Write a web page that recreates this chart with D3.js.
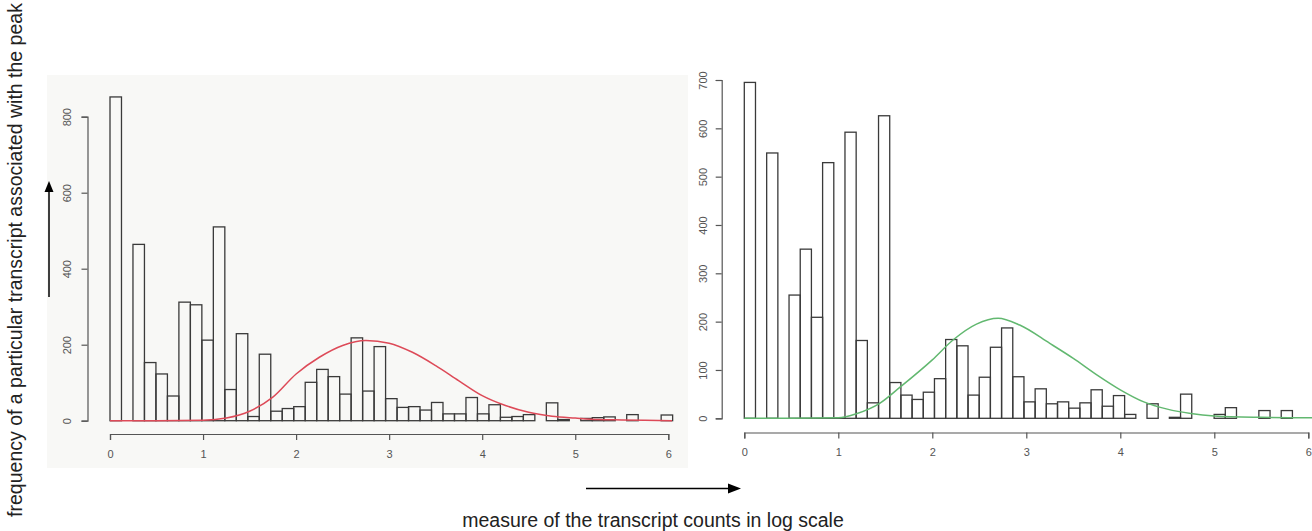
<!DOCTYPE html>
<html lang="en">
<head>
<meta charset="utf-8">
<title>Transcript count histograms</title>
<script src="https://d3js.org/d3.v7.min.js"></script>
<style>
body { margin: 0; background: #fff; }
svg { display: block; font-family: "Liberation Sans", Arial, sans-serif; }
.tick text { fill: #555; font-size: 11px; }
.domain, .tick line { stroke: #555; stroke-width: 1.2; }
</style>
</head>
<body>
<div id="chart"></div>
<script>

// bin counts (49 equal bins each)
var leftCounts = [852, 0, 464, 153, 123, 65, 312, 305, 212, 510,
                  82, 229, 11, 175, 25, 32, 37, 101, 135, 116,
                  70, 218, 78, 195, 58, 35, 37, 28, 48, 18,
                  18, 61, 18, 42, 9, 11, 16, 0, 47, 3,
                  0, 6, 8, 10, 0, 16, 0, 0, 15];
var rightCounts = [695, 0, 549, 0, 255, 350, 209, 529, 1, 592,
                   161, 32, 626, 74, 48, 39, 54, 82, 163, 150,
                   48, 85, 147, 187, 86, 34, 61, 30, 34, 21,
                   32, 59, 25, 47, 8, 0, 30, 0, 2, 50,
                   0, 0, 8, 22, 0, 0, 16, 0, 16];
var leftBinWidth = 0.1234;
var rightBinWidth = 0.119;

// fitted curves, points
var leftCurveX = [0, 0.5, 1.0, 1.25, 1.5, 1.75, 2.0, 2.25, 2.5, 2.75, 3.0, 3.25, 3.5, 3.75, 4.0, 4.25, 4.5, 4.75, 5.0, 5.25, 5.5, 5.75, 6.04];
var leftCurveY = [0, 0, 1, 7, 25, 62, 123, 167, 198, 211, 204, 180, 145, 105, 66, 40, 22, 12, 7, 3, 2, 1, 0];
var rightCurveX = [0, 0.5, 1.0, 1.2, 1.44, 1.66, 2.0, 2.22, 2.47, 2.7, 2.93, 3.25, 3.5, 3.75, 4.0, 4.25, 4.5, 4.75, 5.0, 5.5, 6.0, 6.04];
var rightCurveY = [0, 0, 1, 10, 31, 65, 121, 162, 195, 207, 193, 155, 124, 90, 59, 34, 19, 10, 5, 2, 1, 1];

var xTicks = [0, 1, 2, 3, 4, 5, 6];
var leftYTicks = [0, 200, 400, 600, 800];
var rightYTicks = [0, 100, 200, 300, 400, 500, 600, 700];

var svg = d3.select("#chart")
  .append("svg")
    .attr("width", 1312)
    .attr("height", 531);

// the left plot sits on a slightly grey background
svg.append("rect")
  .attr("x", 47).attr("y", 75)
  .attr("width", 641).attr("height", 393)
  .attr("fill", "#f8f8f6");

function drawPanel(p) {
  var x = d3.scaleLinear().domain([0, 6]).range(p.xRange);
  var y = d3.scaleLinear().domain([0, p.yMax]).range(p.yRange);
  var g = svg.append("g");

  // bars
  var bins = p.counts.map(function(c, i) { return {i: i, c: c}; })
    .filter(function(d) { return d.c > 0; });
  g.selectAll("rect.bar")
    .data(bins)
    .enter()
    .append("rect")
      .attr("class", "bar")
      .attr("x", function(d) { return x(d.i * p.binWidth); })
      .attr("width", function(d) { return x((d.i + 1) * p.binWidth) - x(d.i * p.binWidth); })
      .attr("y", function(d) { return y(d.c); })
      .attr("height", function(d) { return y(0) - y(d.c); })
      .attr("fill", "none")
      .attr("stroke", "#3a3a3a")
      .attr("stroke-width", 1.3);

  // fitted curve
  g.append("path")
    .datum(d3.zip(p.curveX, p.curveY))
    .attr("d", d3.line()
      .x(function(d) { return x(d[0]); })
      .y(function(d) { return y(d[1]); })
      .curve(d3.curveMonotoneX))
    .attr("fill", "none")
    .attr("stroke", p.color)
    .attr("stroke-width", 1.5);

  // x axis, R style: line only between first and last tick
  g.append("g")
    .attr("transform", "translate(0," + p.xAxisY + ")")
    .call(d3.axisBottom(x).tickValues(xTicks).tickFormat(d3.format("d"))
      .tickSizeOuter(0).tickSize(6).tickPadding(10));

  // y axis with rotated labels
  var ya = g.append("g")
    .attr("transform", "translate(" + p.yAxisX + ",0)")
    .call(d3.axisLeft(y).tickValues(p.yTicks).tickFormat(d3.format("d"))
      .tickSizeOuter(0).tickSize(6));
  ya.selectAll(".tick text")
    .attr("transform", "rotate(-90)")
    .attr("x", 0)
    .attr("y", -p.labelOffset)
    .attr("dy", "0.35em")
    .attr("text-anchor", "middle");
  g.selectAll(".domain").attr("fill", "none");
}

drawPanel({
  counts: leftCounts, binWidth: leftBinWidth,
  curveX: leftCurveX, curveY: leftCurveY, color: "#dd4a58",
  xRange: [110, 668.3], yRange: [420.7, 116.7], yMax: 800, yTicks: leftYTicks,
  xAxisY: 434, yAxisX: 87.5, labelOffset: 20
});

drawPanel({
  counts: rightCounts, binWidth: rightBinWidth,
  curveX: rightCurveX, curveY: rightCurveY, color: "#62b870",
  xRange: [744.3, 1308.3], yRange: [418.3, 80], yMax: 700, yTicks: rightYTicks,
  xAxisY: 432.5, yAxisX: 721.7, labelOffset: 18.7
});

// arrows
svg.append("line").attr("x1", 49).attr("y1", 297).attr("x2", 49).attr("y2", 190)
  .attr("stroke", "#000").attr("stroke-width", 1.5);
svg.append("path").attr("d", "M49,181 L44.5,192 L53.5,192 Z").attr("fill", "#000");
svg.append("line").attr("x1", 586).attr("y1", 488.5).attr("x2", 730).attr("y2", 488.5)
  .attr("stroke", "#000").attr("stroke-width", 1.5);
svg.append("path").attr("d", "M741,488.5 L728,483.5 L728,493.5 Z").attr("fill", "#000");

// axis titles
svg.append("text")
  .attr("x", 653).attr("y", 527)
  .attr("text-anchor", "middle")
  .style("font-size", "19.5px")
  .style("fill", "#222")
  .text("measure of the transcript counts in log scale");

svg.append("text")
  .attr("transform", "translate(22,260) rotate(-90)")
  .attr("text-anchor", "middle")
  .style("font-size", "19.5px")
  .style("fill", "#222")
  .text("frequency of a particular transcript associated with the peak");

</script>
</body>
</html>
